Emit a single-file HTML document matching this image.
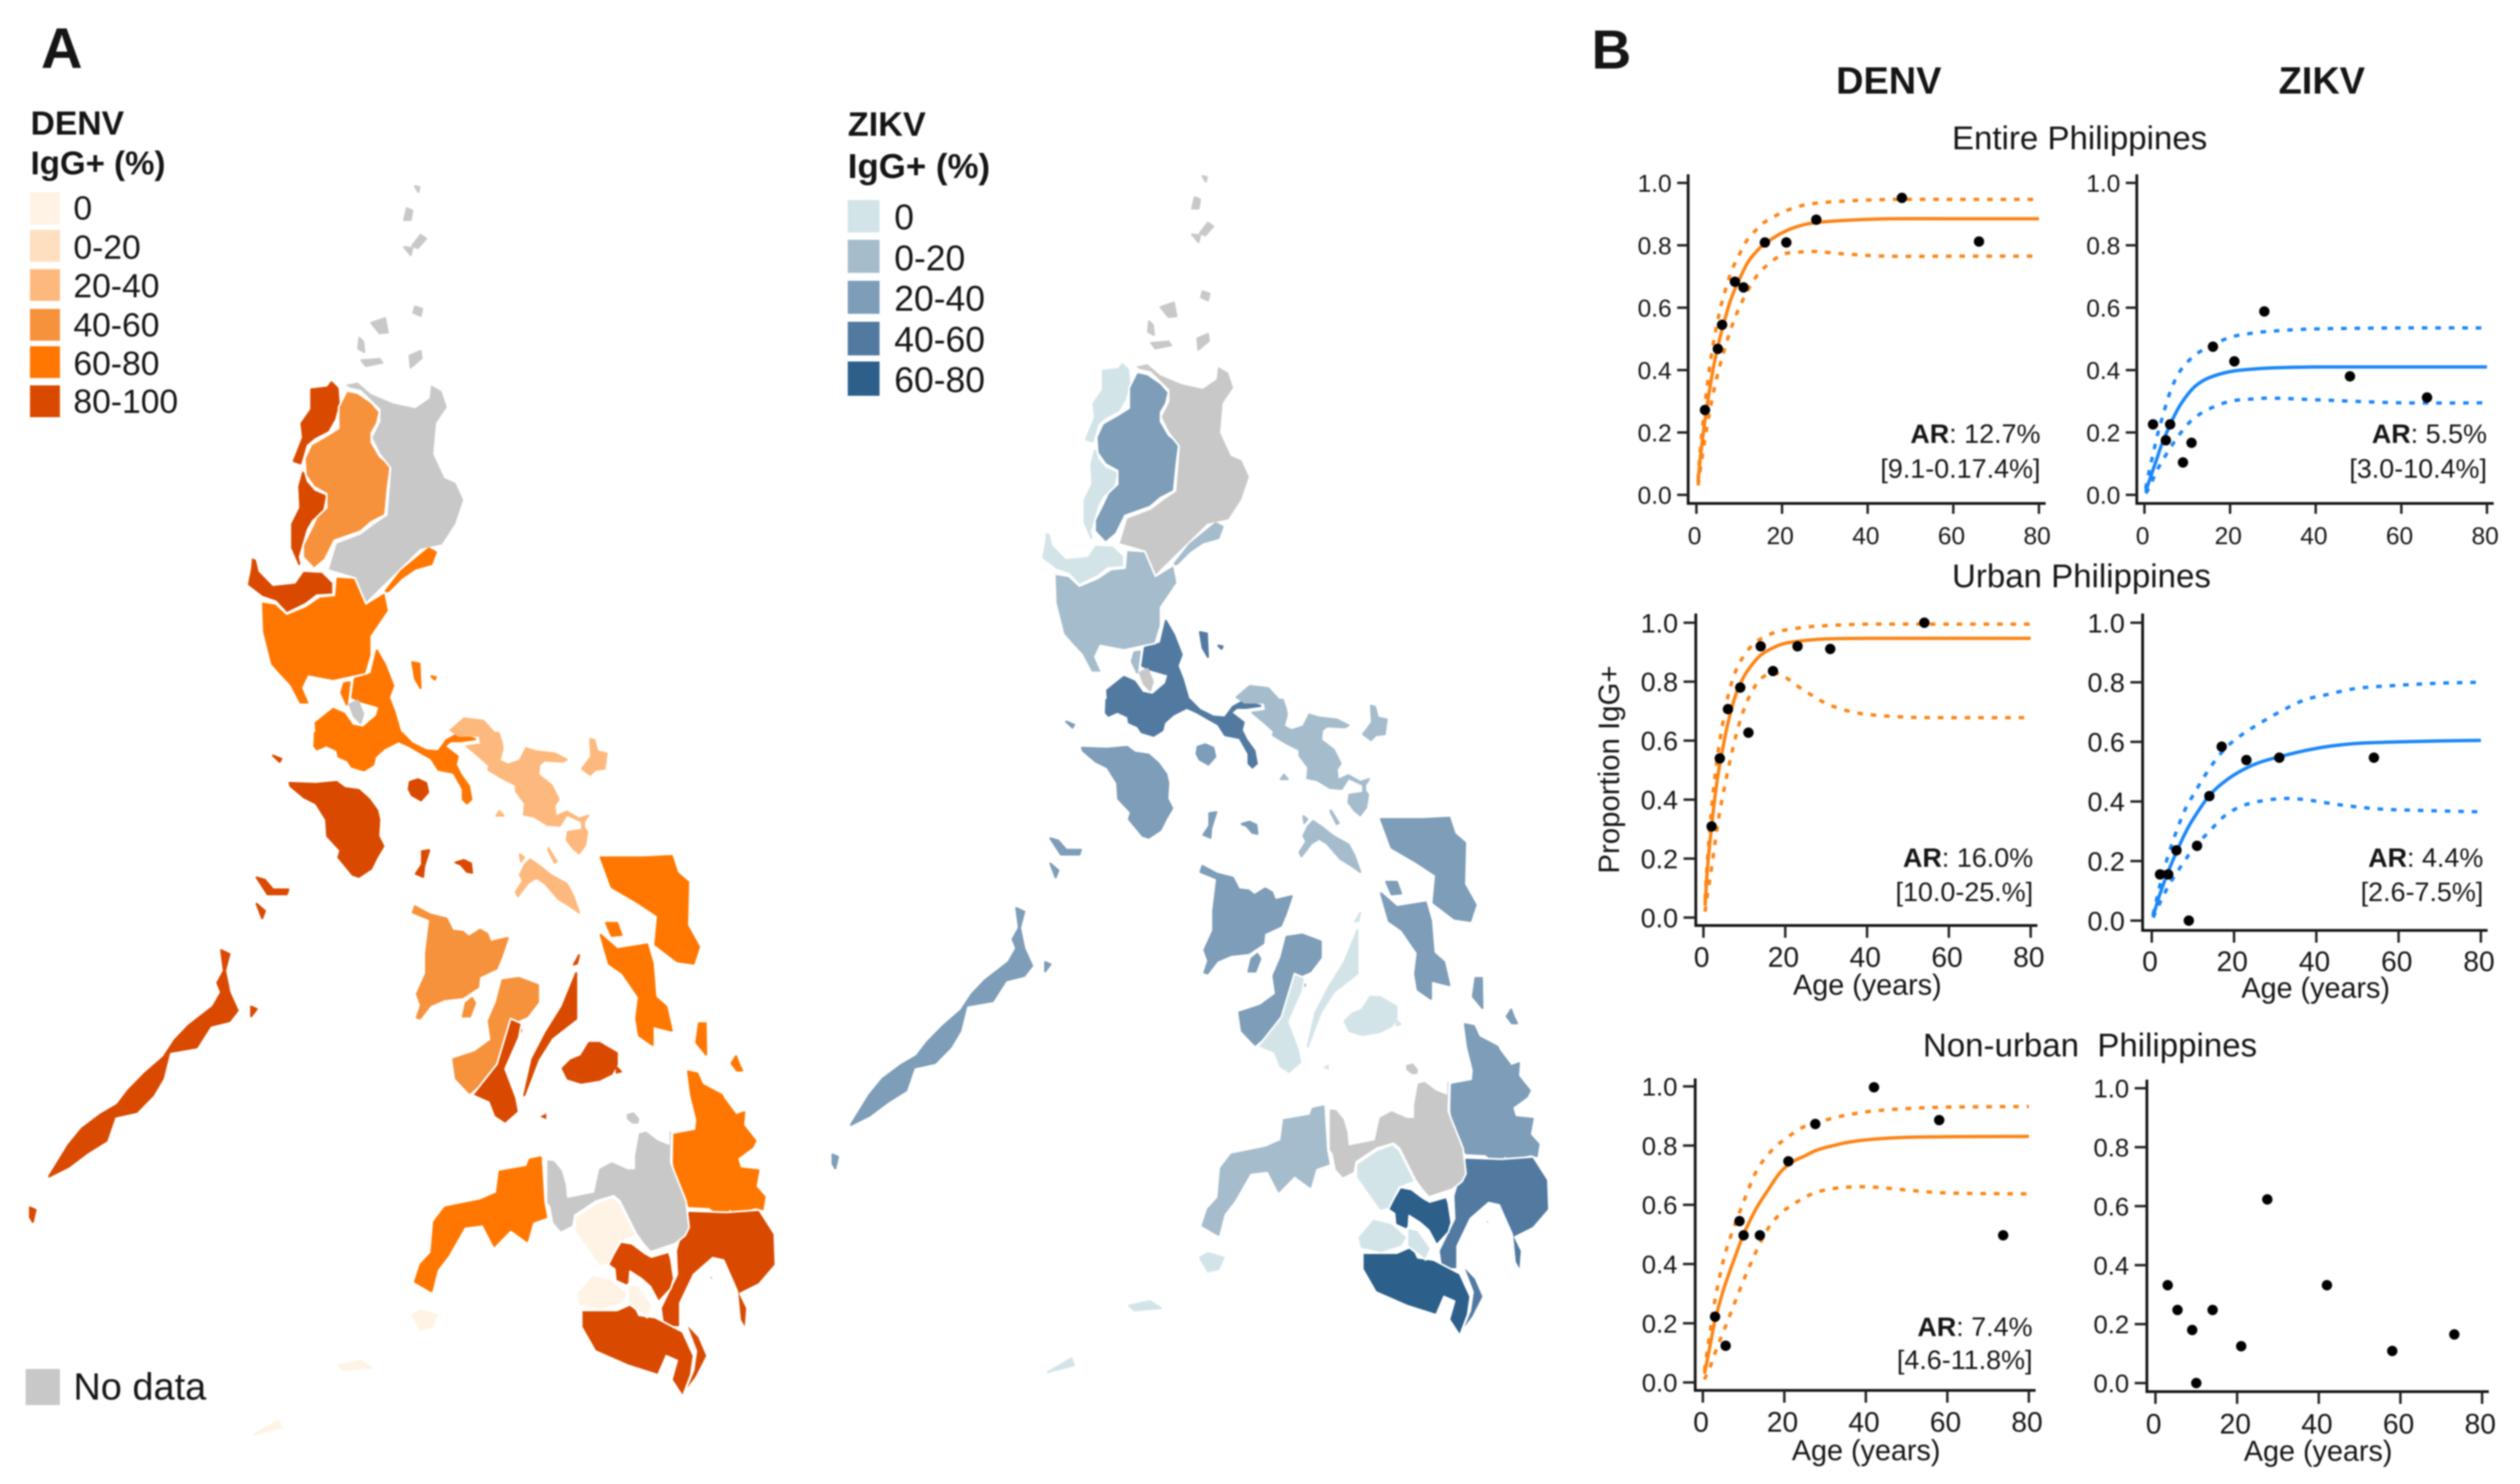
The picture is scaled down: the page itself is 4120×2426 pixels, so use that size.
<!DOCTYPE html>
<html lang="en">
<head>
<meta charset="utf-8">
<title>DENV and ZIKV seroprevalence in the Philippines</title>
<style>
html,body{margin:0;padding:0;background:#fff}
svg{display:block;filter:blur(1.2px)}
text{font-family:"Liberation Sans",Arial,sans-serif;fill:#151515}
</style>
</head>
<body>
<svg id="figure" xmlns="http://www.w3.org/2000/svg" width="4120" height="2426" viewBox="0 0 4120 2426">
  <rect x="0" y="0" width="4120" height="2426" fill="#fff"/>
  <g id="map-denv" transform="translate(0,0)"></g>
  <g id="map-zikv" transform="translate(1314.1,-3.7) scale(.961,.958)"></g>
  <g id="panels"></g>

  <text x="67" y="111" font-size="94" font-weight="700" fill="#000">A</text>
  <text x="2602" y="112" font-size="90" font-weight="700" fill="#000">B</text>

  <g>
    <text x="50" y="220" font-size="55" font-weight="700">DENV</text>
    <text x="50" y="285" font-size="54" font-weight="700">IgG+ (%)</text>
    <g><rect x="49" y="314" width="49" height="53" fill="#fff3e6"/><text x="120" y="359" font-size="55">0</text></g>
    <g><rect x="49" y="376" width="49" height="52" fill="#fedfc0"/><text x="120" y="423" font-size="55">0-20</text></g>
    <g><rect x="49" y="440" width="49" height="52" fill="#fdb97d"/><text x="120" y="486" font-size="55">20-40</text></g>
    <g><rect x="49" y="505" width="49" height="52" fill="#f6923c"/><text x="120" y="550" font-size="55">40-60</text></g>
    <g><rect x="49" y="566" width="49" height="52" fill="#ff7700"/><text x="120" y="613" font-size="55">60-80</text></g>
    <g><rect x="49" y="630" width="49" height="52" fill="#d94a00"/><text x="120" y="675" font-size="55">80-100</text></g>
    <g><rect x="42" y="2238" width="56" height="59" fill="#c8c8c8"/><text x="120" y="2288" font-size="62">No data</text></g>
  </g>

  <g>
    <text x="1386" y="222" font-size="56" font-weight="700">ZIKV</text>
    <text x="1386" y="291" font-size="57" font-weight="700">IgG+ (%)</text>
    <g><rect x="1386" y="327" width="52" height="53" fill="#d3e4e8"/><text x="1462" y="375" font-size="58">0</text></g>
    <g><rect x="1386" y="392" width="52" height="54" fill="#a5bccc"/><text x="1462" y="442" font-size="58">0-20</text></g>
    <g><rect x="1386" y="459" width="52" height="54" fill="#7d9db8"/><text x="1462" y="508" font-size="58">20-40</text></g>
    <g><rect x="1386" y="526" width="52" height="55" fill="#527aa0"/><text x="1462" y="575" font-size="58">40-60</text></g>
    <g><rect x="1386" y="591" width="52" height="56" fill="#2c5f8a"/><text x="1462" y="641" font-size="58">60-80</text></g>
  </g>

  <text x="3088" y="153" font-size="62" font-weight="700" text-anchor="middle" fill="#000">DENV</text>
  <text x="3796" y="153" font-size="62" font-weight="700" text-anchor="middle" fill="#000">ZIKV</text>
  <text x="3400" y="244" font-size="54" text-anchor="middle" fill="#222">Entire Philippines</text>
  <text x="3403" y="960" font-size="54" text-anchor="middle" fill="#222">Urban Philippines</text>
  <text x="3417" y="1727" font-size="54" text-anchor="middle" xml:space="preserve" fill="#222">Non-urban  Philippines</text>

  <text transform="translate(2647,1258) rotate(-90)" font-size="48" text-anchor="middle" fill="#444">Proportion IgG+</text>
  <text x="3053" y="1626" font-size="47" text-anchor="middle" fill="#333">Age (years)</text>
  <text x="3786" y="1631" font-size="47" text-anchor="middle" fill="#333">Age (years)</text>
  <text x="3051" y="2387" font-size="47" text-anchor="middle" fill="#333">Age (years)</text>
  <text x="3790" y="2388" font-size="47" text-anchor="middle" fill="#333">Age (years)</text>

  <g font-size="44" text-anchor="end" fill="#222">
    <text x="3336" y="724"><tspan font-weight="700">AR</tspan>:  12.7%</text>
    <text x="3336" y="781">[9.1-0.17.4%]</text>
    <text x="4066" y="724"><tspan font-weight="700">AR</tspan>:  5.5%</text>
    <text x="4066" y="781">[3.0-10.4%]</text>
    <text x="3324" y="1417"><tspan font-weight="700">AR</tspan>:  16.0%</text>
    <text x="3324" y="1473">[10.0-25.%]</text>
    <text x="4060" y="1417"><tspan font-weight="700">AR</tspan>:  4.4%</text>
    <text x="4060" y="1473">[2.6-7.5%]</text>
    <text x="3323" y="2184"><tspan font-weight="700">AR</tspan>:  7.4%</text>
    <text x="3323" y="2238">[4.6-11.8%]</text>
  </g>
</svg>

<script>
/* ---------- Shared axis tick labels ---------- */
const yTickValues = [0, 0.2, 0.4, 0.6, 0.8, 1];
const xTickValues = [0, 20, 40, 60, 80];

/* ---------- Entire Philippines, DENV ---------- */
const entireDenvAges = [2, 5, 6, 9, 11, 16, 21, 28, 48, 66];
const entireDenvProps = [0.272, 0.468, 0.545, 0.683, 0.665, 0.809, 0.809, 0.882, 0.952, 0.812];
const entireDenvFitAges = [0.4, 1, 2, 3, 4, 5, 6, 8, 10, 12, 14, 16, 20, 24, 28, 35, 45, 60, 80];
const entireDenvFit = [0.04, 0.13, 0.24, 0.33, 0.41, 0.475, 0.53, 0.625, 0.69, 0.745, 0.78, 0.805, 0.84, 0.862, 0.873, 0.88, 0.885, 0.885, 0.885];
const entireDenvUpper = [0.05, 0.16, 0.29, 0.4, 0.49, 0.56, 0.62, 0.71, 0.77, 0.82, 0.85, 0.875, 0.905, 0.925, 0.935, 0.942, 0.947, 0.947, 0.947];
const entireDenvLower = [0.03, 0.09, 0.18, 0.26, 0.33, 0.39, 0.44, 0.53, 0.6, 0.655, 0.7, 0.73, 0.77, 0.778, 0.78, 0.772, 0.765, 0.765, 0.765];

/* ---------- Entire Philippines, ZIKV ---------- */
const entireZikvAges = [2, 5, 6, 9, 11, 16, 21, 28, 48, 66];
const entireZikvProps = [0.226, 0.175, 0.226, 0.104, 0.167, 0.475, 0.428, 0.588, 0.38, 0.312];
const entireZikvFitAges = [0.3, 1, 2, 3, 4, 6, 8, 10, 12, 15, 20, 25, 30, 40, 60, 80];
const entireZikvFit = [0.01, 0.04, 0.08, 0.12, 0.16, 0.225, 0.28, 0.32, 0.35, 0.375, 0.395, 0.403, 0.407, 0.41, 0.41, 0.41];
const entireZikvUpper = [0.02, 0.07, 0.13, 0.19, 0.24, 0.33, 0.39, 0.425, 0.45, 0.475, 0.505, 0.518, 0.525, 0.532, 0.535, 0.535];
const entireZikvLower = [0.005, 0.02, 0.05, 0.08, 0.105, 0.15, 0.19, 0.225, 0.25, 0.275, 0.3, 0.307, 0.31, 0.305, 0.295, 0.295];

/* ---------- Urban Philippines, DENV ---------- */
const urbanDenvAges = [2, 4, 6, 9, 11, 14, 17, 23, 31, 54];
const urbanDenvProps = [0.309, 0.54, 0.707, 0.78, 0.627, 0.92, 0.836, 0.92, 0.911, 1.0];
const urbanDenvFitAges = [0.4, 1, 2, 3, 4, 6, 8, 10, 12, 14, 17, 20, 25, 30, 40, 60, 80];
const urbanDenvFit = [0.04, 0.17, 0.31, 0.43, 0.52, 0.66, 0.76, 0.82, 0.86, 0.89, 0.915, 0.93, 0.94, 0.945, 0.947, 0.947, 0.947];
const urbanDenvUpper = [0.06, 0.2, 0.37, 0.5, 0.6, 0.75, 0.84, 0.89, 0.925, 0.945, 0.965, 0.975, 0.985, 0.99, 0.995, 0.995, 0.995];
const urbanDenvLowerAges = [0.4, 1, 2, 3, 4, 6, 8, 10, 12, 14, 17, 20, 23, 27, 31, 38, 49, 60, 80];
const urbanDenvLower = [0.02, 0.08, 0.17, 0.27, 0.36, 0.5, 0.62, 0.71, 0.77, 0.81, 0.83, 0.815, 0.785, 0.75, 0.72, 0.693, 0.68, 0.678, 0.678];

/* ---------- Urban Philippines, ZIKV ---------- */
const urbanZikvAges = [2, 4, 6, 9, 11, 14, 17, 23, 31, 54];
const urbanZikvProps = [0.155, 0.155, 0.236, 0, 0.251, 0.418, 0.584, 0.539, 0.547, 0.547];
const urbanZikvFitAges = [0.3, 1, 2, 4, 6, 8, 10, 14, 18, 22, 26, 31, 37, 43, 50, 60, 70, 80];
const urbanZikvFit = [0.015, 0.045, 0.09, 0.165, 0.23, 0.29, 0.34, 0.42, 0.47, 0.505, 0.53, 0.55, 0.57, 0.585, 0.595, 0.6, 0.603, 0.605];
const urbanZikvUpper = [0.02, 0.06, 0.12, 0.22, 0.3, 0.37, 0.42, 0.51, 0.58, 0.625, 0.66, 0.7, 0.74, 0.76, 0.78, 0.79, 0.797, 0.8];
const urbanZikvLowerAges = [0.3, 1, 2, 4, 6, 8, 10, 14, 18, 22, 26, 32, 38, 45, 55, 65, 80];
const urbanZikvLower = [0.01, 0.03, 0.06, 0.115, 0.16, 0.2, 0.24, 0.3, 0.355, 0.385, 0.4, 0.41, 0.405, 0.39, 0.375, 0.37, 0.365];

/* ---------- Non-urban Philippines, DENV ---------- */
const nonUrbanDenvAges = [3, 5.6, 9, 10, 14, 21, 27.6, 42, 58, 73.7];
const nonUrbanDenvProps = [0.222, 0.124, 0.545, 0.497, 0.497, 0.747, 0.873, 0.997, 0.886, 0.497];
const nonUrbanDenvFitAges = [0.4, 1, 2, 3, 5, 7, 10, 13, 16, 19, 22, 25, 28, 32, 36, 42, 50, 60, 80];
const nonUrbanDenvFit = [0.03, 0.07, 0.14, 0.21, 0.31, 0.39, 0.5, 0.585, 0.65, 0.71, 0.745, 0.765, 0.785, 0.8, 0.812, 0.822, 0.828, 0.83, 0.831];
const nonUrbanDenvUpper = [0.04, 0.1, 0.19, 0.28, 0.41, 0.5, 0.61, 0.71, 0.77, 0.81, 0.84, 0.865, 0.878, 0.893, 0.905, 0.917, 0.925, 0.93, 0.932];
const nonUrbanDenvLower = [0.01, 0.03, 0.06, 0.1, 0.17, 0.24, 0.345, 0.44, 0.52, 0.57, 0.6, 0.625, 0.643, 0.655, 0.66, 0.66, 0.65, 0.64, 0.637];

/* ---------- Non-urban Philippines, ZIKV (points only) ---------- */
const nonUrbanZikvAges = [3, 5.4, 9, 10, 14, 21, 27.4, 42, 58, 73.2];
const nonUrbanZikvProps = [0.332, 0.248, 0.18, 0, 0.248, 0.125, 0.623, 0.332, 0.109, 0.165];

/* ---------- Choropleth values: bin index per region, -1 = no data ---------- */
const regionNames = ['ilocos','cordillera-cagayan-valley','cagayan-no-data','batanes-babuyan-no-data','pangasinan','aurora','cavite','calabarzon','central-luzon','polillo','metro-manila-no-data','bicol','masbate','mindoro','marinduque-romblon','palawan','panay','guimaras','negros-occidental','negros-oriental','cebu','bohol','samar','leyte','caraga','davao','soccsksargen','davao-occidental','south-cotabato','bukidnon-lanao','cotabato','sarangani-bay','zamboanga','central-mindanao-no-data','sulu-basilan'];
const denvBins = [5,3,-1,-1,5,4,4,4,4,4,-1,2,2,5,5,5,3,3,3,5,5,5,4,4,4,5,5,5,5,0,0,0,4,-1,0];
const zikvBins = [0,2,-1,-1,0,1,1,3,1,3,-1,1,1,2,2,2,2,2,2,0,0,0,2,2,2,3,4,3,4,0,0,0,1,-1,0];
const denvColors = ['#fff3e6','#fedfc0','#fdb97d','#f6923c','#ff7700','#d94a00'];
const zikvColors = ['#d3e4e8','#a5bccc','#7d9db8','#527aa0','#2c5f8a'];
const noDataColor = '#c8c8c8';

/* ---------- Region outlines, traced in four working frames ---------- */
const regionShapes = [
 {a:'M570 832L600 828 607 817 618 830 620 860 612 895 600 920 575 935 560 950 550 990 538 985 555 935 552 905 570 875ZM555 1010L560 1030 575 1050 595 1060 590 1090 570 1110 560 1130 545 1190 548 1205 535 1170 535 1120 550 1085 548 1040Z'},
 {edge:1,a:'M635 835L655 840 680 860 695 880 690 905 680 925 680 945 695 975 715 995 710 1040 705 1100 680 1115 660 1135 612 1155 595 1195 575 1215 555 1190 555 1165 570 1130 580 1105 598 1085 598 1055 575 1040 560 1015 558 980 570 950 600 930 620 915 620 870Z'},
 {edge:1,a:'M628 822L655 815 680 840 720 860 760 870 785 850 788 820 810 835 820 870 800 905 795 970 815 1020 835 1030 850 1068 835 1120 810 1165 770 1175 735 1215 700 1255 670 1290 650 1235 600 1218 615 1160 660 1140 685 1118 708 1100 715 1000 695 970 680 935 695 900 695 875 660 835 640 830Z'},
 {a:'M760 398L768 400 766 410ZM745 445L755 450 752 470 740 470ZM770 502L780 510 765 530 755 525ZM740 528L755 530 752 545ZM760 655L773 660 770 675 757 668ZM680 690L705 680 710 710 695 712ZM658 722L665 730 667 752 656 745ZM662 770L695 767 700 775 670 782ZM750 760L770 750 772 765 752 785Z'},
 {edge:1,a:'M460 1190L470 1195 475 1220 500 1250 540 1245 555 1220 590 1222 610 1245 610 1270 580 1272 560 1290 525 1310 505 1285 480 1275 452 1250 458 1215Z'},
 {a:'M785 1172L798 1180 790 1205 760 1215 735 1235 712 1262 705 1265 735 1220Z'},
 {a:'M630 1460L640 1458 635 1505 625 1480Z'},
 {a:'M690 1390L705 1420 720 1465 712 1490 722 1520 735 1572 580 1572 578 1545 610 1515 630 1525 645 1550 665 1555 690 1530 695 1510 660 1498 645 1490 650 1450 680 1440Z',
  d:'M45 -6L470 -6 520 45 590 80 650 85 690 30 745 0 830 25 760 35 710 35 680 60 745 110 735 150 760 200 800 255 812 320 790 340 770 320 770 270 725 190 650 175 615 120 570 95 510 60 455 35 385 70 340 110 330 150 285 178 225 160 205 130 160 110 155 80 100 55 55 75 42 60Z'},
 {edge:1,a:'M615 1232L650 1235 670 1290 705 1265 712 1305 680 1360 680 1400 670 1440 610 1455 565 1445 555 1470 568 1505 548 1505 530 1465 510 1440 495 1420 480 1350 478 1285 505 1290 525 1312 560 1295 585 1275 612 1272Z'},
 {a:'M755 1415L768 1418 770 1470 760 1450ZM790 1445L798 1447 796 1452Z'},
 {a:'M640 1505L655 1497 665 1525 660 1545 648 1530Z'},
 {a:'M825 1560L850 1535 885 1540 910 1572 840 1572Z',
  d:'M790 60L860 50 850 -6 945 -6 960 40 965 70 950 130 990 150 1050 130 1080 70 1130 85 1220 95 1280 125 1260 135 1170 130 1145 150 1140 200 1205 250 1240 320 1220 350 1225 405 1280 380 1340 415 1385 400 1365 430 1365 460 1380 480 1370 545 1340 585 1310 560 1280 520 1285 480 1355 470 1355 430 1280 395 1245 450 1185 445 1120 405 1070 395 1075 340 1030 280 1030 250 960 215 895 175 900 155 850 110ZM1395 25L1415 30 1430 85 1475 95 1465 170 1420 175 1395 200 1355 170 1400 110ZM935 400L950 378 970 400Z'},
 {d:'M1100 615L1150 650 1200 690 1280 735 1310 790 1340 875 1290 840 1240 810 1170 730 1130 705 1090 730 1040 795 1030 775 1065 720 1050 690 1075 640ZM1050 590L1070 605 1055 625ZM1190 560L1230 625 1220 630 1190 570Z'},
 {d:'M-80 240L50 245 150 235 190 265 260 275 310 320 350 375 360 420 355 500 380 550 350 600 320 660 260 700 230 690 160 605 170 570 105 500 100 420 50 340 -10 310 -75 255Z',b:'M500 45L515 52 512 58Z'},
 {d:'M510 235L550 222 590 240 600 285 565 325 520 300 505 270ZM570 575L605 570 580 650 575 700 540 685 570 640ZM735 630L775 618 810 635 815 680 790 675 760 640Z'},
 {b:'M405 452L420 460 412 495 420 540 435 578 420 600 385 610 360 655 310 665 298 720 280 755 250 790 210 800 195 850 160 875 125 905 90 925 125 860 150 825 185 795 215 775 235 745 265 710 300 675 320 640 345 610 390 570 405 540 398 520 410 495ZM55 990L65 995 60 1020 55 1010ZM460 570L470 575 460 590ZM470 300L485 305 500 325 528 325 525 335 490 335ZM470 355L485 370 480 385Z'},
 {d:'M535 845L610 885 690 905 720 965 770 970 800 995 855 960 890 980 905 1020 990 1000 960 1090 935 1150 850 1190 845 1240 770 1290 680 1300 610 1330 560 1395 545 1390 565 1330 545 1275 590 1175 590 1075 610 910 525 875Z'},
 {d:'M815 1295L830 1320 805 1385 770 1385 785 1320Z'},
 {b:'M920 515L950 510 985 525 985 560 965 590 945 600 955 620 925 660 890 720 860 750 835 720 830 680 870 665 900 640 895 600 910 560Z'},
 {edge:1,b:'M935 595L955 605 950 635 925 700 945 760 950 790 925 815 905 800 895 770 865 755 910 690ZM985 800L1002 790 1002 808Z'},
 {b:'M1055 500L1055 595 1010 635 985 680 960 755 975 680 1000 625 1030 570Z',d:'M1315 1130L1340 1085 1330 1125Z'},
 {c:'M190 15L240 15 325 65 325 120 300 165 240 195 150 210 85 190 60 140 100 100 150 80ZM325 135L345 155 325 160Z'},
 {b:'M1100 258L1180 258 1230 255 1240 290 1260 310 1258 400 1280 445 1270 480 1240 475 1200 440 1205 380 1165 350 1120 320ZM1110 395L1130 395 1138 420 1120 422Z'},
 {b:'M1100 420L1130 450 1185 440 1195 480 1200 550 1220 570 1230 620 1195 610 1195 650 1170 630 1165 595 1170 550 1140 500 1115 480ZM1280 605L1292 605 1293 670 1275 645Z'},
 {c:'M675 155L720 165 745 220 840 270 850 290 910 370 950 355 945 420 1005 495 990 525 915 580 930 630 1020 640 1005 720 1050 770 1040 830 1010 820 900 845 880 825 860 850 800 835 780 820 680 815 660 750 620 680 605 600 608 465 715 445 720 390 690 270ZM910 80L925 120 940 150 915 150 888 115Z'},
 {edge:1,b:'M1260 997L1330 1000 1390 995 1418 1045 1420 1110 1390 1150 1355 1170 1368 1200 1365 1245 1355 1225 1350 1165 1325 1100 1305 1095 1270 1130 1245 1190 1245 1240 1215 1240 1210 1200 1240 1130 1238 1080ZM1295 1130L1305 1135 1305 1145Z'},
 {edge:1,b:'M1065 1205L1130 1205 1160 1190 1170 1215 1200 1220 1250 1250 1270 1300 1265 1340 1250 1385 1230 1350 1240 1310 1220 1300 1205 1340 1150 1320 1090 1290 1065 1240Z'},
 {edge:1,b:'M1255 1230L1280 1260 1295 1300 1275 1345 1252 1380 1270 1330 1275 1290Z'},
 {edge:1,c:'M345 990L400 1000 460 1045 495 1065 580 1040 590 1070 605 1170 590 1220 530 1285 490 1210 445 1170 390 1135 385 1210 320 1180 315 1125 280 1100Z'},
 {edge:1,c:'M120 870L225 800 305 770 340 800 420 960 340 990 285 1100 240 1110 120 940Z'},
 {edge:1,b:'M1055 1170L1085 1130 1120 1140 1150 1170 1140 1190 1100 1205 1060 1195Z'},
 {edge:1,b:'M1150 1150L1170 1155 1195 1195 1185 1220 1150 1190Z'},
 {b:'M970 890L990 885 995 980 1000 1010 975 1020 965 1060 935 1035 905 1070 885 1025 850 1030 820 1090 800 1120 790 1165 760 1145 770 1110 790 1085 795 1020 815 990 880 975 910 960 915 915 965 905Z'},
 {edge:1,c:'M-20 585L20 590 60 640 80 710 85 770 210 745 235 630 300 595 380 630 410 630 410 570 430 455 470 445 530 490 580 510 580 445 595 445 590 600 605 640 665 790 680 920 660 960 610 1000 490 1040 455 1000 420 950 340 790 310 765 225 790 120 860 110 915 50 945 10 900 -5 820 -20 800ZM370 360L410 350 440 385 435 415 400 415 370 390Z'},
 {b:'M755 1215L770 1205 800 1215 790 1240 770 1245ZM620 1320L660 1310 680 1325 630 1330ZM465 1465L510 1435 515 1450 480 1460Z'}
];
const shapeFrames = {
  a: 'scale(.89286,.76511)',
  b: 'translate(0,1200) scale(.89286,.78186)',
  c: 'translate(900,1700) scale(.33333)',
  d: 'translate(500,1200) scale(.33333)'
};

const NS = 'http://www.w3.org/2000/svg';
function mk(tag, attrs, parent) {
  const node = document.createElementNS(NS, tag);
  for (const key in attrs) node.setAttribute(key, attrs[key]);
  parent.appendChild(node);
  return node;
}

/* ---------- Draw the two maps ---------- */
function drawMap(target, prefix, bins, colors) {
  regionNames.forEach(function (name, i) {
    const fill = bins[i] < 0 ? noDataColor : colors[bins[i]];
    const group = mk('g', {}, target);
    
    
    const shape = regionShapes[i];
    ['a', 'b', 'c', 'd'].forEach(function (frame) {
      if (!shape[frame]) return;
      const part = mk('path', {d: shape[frame], transform: shapeFrames[frame], fill: fill, stroke: shape.edge ? '#fff' : fill, 'stroke-width': shape.edge ? 3 : 3.5, 'stroke-linejoin': 'round', 'vector-effect': 'non-scaling-stroke'}, group);
      
      
    });
  });
}
drawMap(document.getElementById('map-denv'), 'denv', denvBins, denvColors);
drawMap(document.getElementById('map-zikv'), 'zikv', zikvBins, zikvColors);

/* ---------- Draw the panels ---------- */
function smoothPath(xs, ys, sx, sy) {
  const px = xs.map(sx);
  const py = ys.map(sy);
  let d = 'M' + px[0].toFixed(1) + ' ' + py[0].toFixed(1);
  for (let i = 0; i < px.length - 1; i++) {
    const p0 = Math.max(i - 1, 0);
    const p3 = Math.min(i + 2, px.length - 1);
    const c1x = px[i] + (px[i + 1] - px[p0]) / 6;
    const c1y = py[i] + (py[i + 1] - py[p0]) / 6;
    const c2x = px[i + 1] - (px[p3] - px[i]) / 6;
    const c2y = py[i + 1] - (py[p3] - py[i]) / 6;
    d += 'C' + c1x.toFixed(1) + ' ' + c1y.toFixed(1) + ' ' + c2x.toFixed(1) + ' ' + c2y.toFixed(1) + ' ' + px[i + 1].toFixed(1) + ' ' + py[i + 1].toFixed(1);
  }
  return d;
}

function drawPanel(cfg, ages, props, fit) {
  const root = document.getElementById('panels');
  const g = mk('g', {}, root);
  
  
  const sx = function (a) { return cfg.x0 + a * (cfg.x80 - cfg.x0) / 80; };
  const sy = function (p) { return cfg.y0 + p * (cfg.y1 - cfg.y0); };

  const yAxis = mk('line', {x1: cfg.axisX, x2: cfg.axisX, y1: cfg.top, y2: cfg.axisY + 2, stroke: '#111', 'stroke-width': 4.5}, g);
  
  
  const xAxis = mk('line', {x1: cfg.axisX - 2, x2: sx(80) + 11, y1: cfg.axisY, y2: cfg.axisY, stroke: '#111', 'stroke-width': 4.5}, g);
  
  

  yTickValues.forEach(function (v) {
    const tick = mk('line', {x1: cfg.axisX - cfg.yTick, x2: cfg.axisX, y1: sy(v), y2: sy(v), stroke: '#222', 'stroke-width': 4}, g);
    
    
    const label = mk('text', {x: cfg.axisX - cfg.yTick - 9, y: sy(v) + cfg.yFont * 0.36, 'font-size': cfg.yFont, 'text-anchor': 'end', fill: '#2a2a2a'}, g);
    label.textContent = v.toFixed(1);
    
    
  });
  xTickValues.forEach(function (v) {
    const tick = mk('line', {x1: sx(v), x2: sx(v), y1: cfg.axisY, y2: cfg.axisY + cfg.xTick, stroke: '#222', 'stroke-width': 4}, g);
    
    
    const label = mk('text', {x: sx(v) - 3, y: cfg.xLabelY + cfg.xFont * 0.36, 'font-size': cfg.xFont, 'text-anchor': 'middle', fill: '#2a2a2a'}, g);
    label.textContent = String(v);
    
    
  });

  if (fit) {
    const upper = mk('path', {d: smoothPath(fit.ages, fit.upper, sx, sy), fill: 'none', stroke: cfg.color, 'stroke-width': 5.5, 'stroke-dasharray': '9 13'}, g);
    
    
    const lower = mk('path', {d: smoothPath(fit.lowerAges || fit.ages, fit.lower, sx, sy), fill: 'none', stroke: cfg.color, 'stroke-width': 5.5, 'stroke-dasharray': '9 13'}, g);
    
    
    const main = mk('path', {d: smoothPath(fit.ages, fit.main, sx, sy), fill: 'none', stroke: cfg.color, 'stroke-width': 5.5}, g);
    
    
  }
  ages.forEach(function (a, i) {
    const dot = mk('ellipse', {cx: sx(a), cy: sy(props[i]), rx: 8.5, ry: 8.5, fill: '#000'}, g);
    
    
  });
}

const ORANGE = '#fb8414';
const BLUE = '#1a86f8';

drawPanel({name: 'entire-denv', color: ORANGE, x0: 2773.5, x80: 3333.5, y0: 809, y1: 299, axisX: 2760, axisY: 823, top: 285, yTick: 18, xTick: 17, yFont: 40, xFont: 40, xLabelY: 875},
  entireDenvAges, entireDenvProps,
  {ages: entireDenvFitAges, main: entireDenvFit, upper: entireDenvUpper, lower: entireDenvLower});
drawPanel({name: 'entire-zikv', color: BLUE, x0: 3506, x80: 4066, y0: 809, y1: 299, axisX: 3493.5, axisY: 823, top: 285, yTick: 18, xTick: 17, yFont: 40, xFont: 40, xLabelY: 875},
  entireZikvAges, entireZikvProps,
  {ages: entireZikvFitAges, main: entireZikvFit, upper: entireZikvUpper, lower: entireZikvLower});
drawPanel({name: 'urban-denv', color: ORANGE, x0: 2785, x80: 3320, y0: 1500, y1: 1018, axisX: 2772.5, axisY: 1513, top: 1003, yTick: 20, xTick: 20, yFont: 44, xFont: 46, xLabelY: 1564},
  urbanDenvAges, urbanDenvProps,
  {ages: urbanDenvFitAges, main: urbanDenvFit, upper: urbanDenvUpper, lower: urbanDenvLower, lowerAges: urbanDenvLowerAges});
drawPanel({name: 'urban-zikv', color: BLUE, x0: 3518, x80: 4056, y0: 1505, y1: 1018, axisX: 3503, axisY: 1521, top: 1003, yTick: 20, xTick: 20, yFont: 44, xFont: 46, xLabelY: 1571},
  urbanZikvAges, urbanZikvProps,
  {ages: urbanZikvFitAges, main: urbanZikvFit, upper: urbanZikvUpper, lower: urbanZikvLower, lowerAges: urbanZikvLowerAges});
drawPanel({name: 'non-urban-denv', color: ORANGE, x0: 2784, x80: 3317, y0: 2260, y1: 1776, axisX: 2771.5, axisY: 2273, top: 1763, yTick: 20, xTick: 20, yFont: 42, xFont: 46, xLabelY: 2324},
  nonUrbanDenvAges, nonUrbanDenvProps,
  {ages: nonUrbanDenvFitAges, main: nonUrbanDenvFit, upper: nonUrbanDenvUpper, lower: nonUrbanDenvLower});
drawPanel({name: 'non-urban-zikv', color: BLUE, x0: 3524, x80: 4058, y0: 2261, y1: 1779, axisX: 3510, axisY: 2275, top: 1765, yTick: 20, xTick: 20, yFont: 42, xFont: 46, xLabelY: 2327},
  nonUrbanZikvAges, nonUrbanZikvProps, null);
</script>
</body>
</html>
